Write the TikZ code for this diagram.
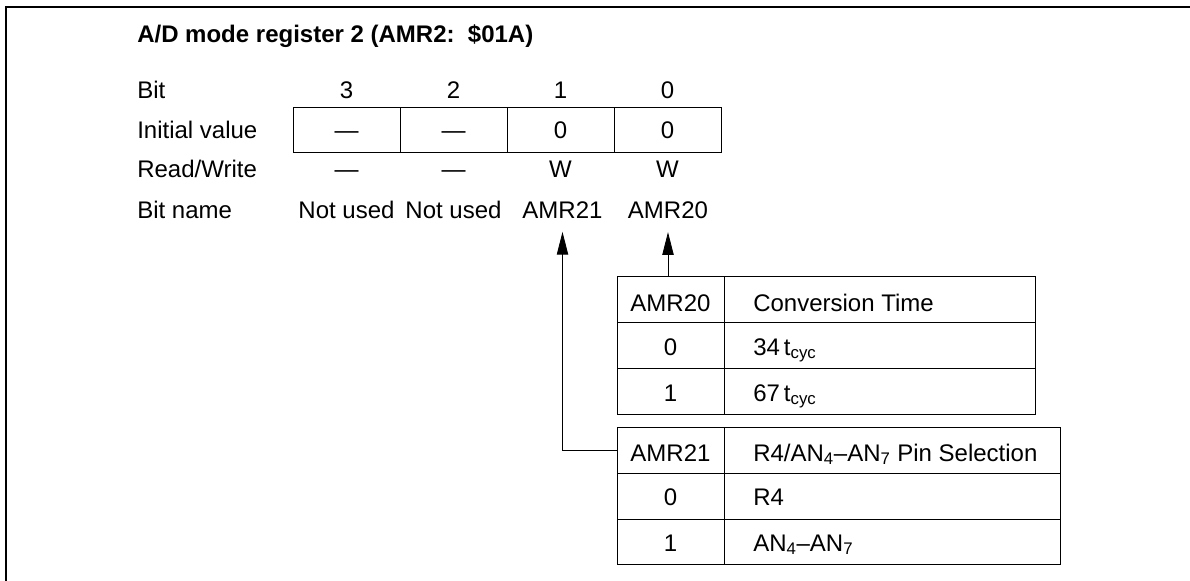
\documentclass[tikz,border=0pt]{standalone}
\usepackage{fontspec}
\setmainfont{Liberation Sans}
\usetikzlibrary{arrows.meta}
\begin{document}
\begin{tikzpicture}[x=0.75pt,y=-0.75pt,
  every node/.style={font=\fontsize{18}{21}\selectfont, inner sep=0pt},
  regcell/.style={draw, line width=0.6pt, minimum width=80.25pt, minimum height=33.75pt},
  keycell/.style={draw, line width=0.6pt, minimum width=80.25pt, minimum height=#1},
  desccell/.style 2 args={draw, line width=0.6pt, minimum width=#1, minimum height=#2},
  rowlbl/.style={anchor=base west},
  ctr/.style={anchor=base},
  desc/.style={anchor=base west},
  conn/.style={draw, line width=0.6pt, -{Triangle[length=17pt,width=8.5pt]}}
]
\useasboundingbox (0,0) rectangle (1190,581);
% frame
\draw[line width=0.8pt] (6,581) -- (6,7) -- (1190,7);

% title
\node[rowlbl, font=\fontsize{18}{21}\selectfont\bfseries] (title) at (137,43) {A/D mode register 2 (AMR2:\ \ \$01A)};

% row labels
\node[rowlbl] (lbit) at (137,99) {Bit};
\node[rowlbl] (linit) at (137,139) {Initial value};
\node[rowlbl] (lrw) at (137,178) {Read/Write};
\node[rowlbl] (lname) at (137,219) {Bit name};

% bit numbers
\node[ctr] (b3) at (346.5,99) {3};
\node[ctr] (b2) at (453.5,99) {2};
\node[ctr] (b1) at (560.5,99) {1};
\node[ctr] (b0) at (667.5,99) {0};

% register cells
\node[regcell] (r3) at (346.5,129.5) {};
\node[regcell] (r2) at (453.5,129.5) {};
\node[regcell] (r1) at (560.5,129.5) {};
\node[regcell] (r0) at (667.5,129.5) {};
\node[ctr] (v3) at (346.5,139) {—};
\node[ctr] (v2) at (453.5,139) {—};
\node[ctr] (v1) at (560.5,139) {0};
\node[ctr] (v0) at (667.5,139) {0};

% read/write
\node[ctr] (w3) at (346.5,178) {—};
\node[ctr] (w2) at (453.5,178) {—};
\node[ctr] (w1) at (560.5,178) {W};
\node[ctr] (w0) at (667.5,178) {W};

% bit names
\node[ctr] (n3) at (346.5,219) {Not used};
\node[ctr] (n2) at (453.5,219) {Not used};
\node[ctr] (n1) at (562.5,219) {AMR21};
\node[ctr] (n0) at (668,219) {AMR20};

% table AMR20
\node[keycell=34.5pt] (ta0) at (670.5,299.5) {};
\node[keycell=34.5pt] (ta1) at (670.5,345.5) {};
\node[keycell=34.5pt] (ta2) at (670.5,391.5) {};
\node[desccell={233.25pt}{34.5pt}] (da0) at (879.5,299.5) {};
\node[desccell={233.25pt}{34.5pt}] (da1) at (879.5,345.5) {};
\node[desccell={233.25pt}{34.5pt}] (da2) at (879.5,391.5) {};
\node[ctr] (ka0) at (670.5,311) {AMR20};
\node[ctr] (ka1) at (670.5,355) {0};
\node[ctr] (ka2) at (670.5,401) {1};
\node[desc] (xa0) at (753,311) {Conversion Time};
\node[desc] (xa1) at (753,355) {34\,t\textsubscript{cyc}};
\node[desc] (xa2) at (753,401) {67\,t\textsubscript{cyc}};

% table AMR21
\node[keycell=34.25pt] (tb0) at (670.5,450.5) {};
\node[keycell=34.25pt] (tb1) at (670.5,496.2) {};
\node[keycell=34.25pt] (tb2) at (670.5,541.9) {};
\node[desccell={252pt}{34.25pt}] (db0) at (892,450.5) {};
\node[desccell={252pt}{34.25pt}] (db1) at (892,496.2) {};
\node[desccell={252pt}{34.25pt}] (db2) at (892,541.9) {};
\node[ctr] (kb0) at (670.5,461) {AMR21};
\node[ctr] (kb1) at (670.5,505) {0};
\node[ctr] (kb2) at (670.5,551) {1};
\node[desc] (xb0) at (753,461) {R4/AN\textsubscript{4}–AN\textsubscript{7} Pin Selection};
\node[desc] (xb1) at (753,505) {R4};
\node[desc] (xb2) at (753,551) {AN\textsubscript{4}–AN\textsubscript{7}};

% connectors
\draw[conn, shorten >=9.5pt] (ta0.north -| n0.south) -- (n0.south);
\draw[conn, shorten >=9.5pt] (tb0.west) -- (tb0.west -| n1.south) -- (n1.south);
\end{tikzpicture}
\end{document}
